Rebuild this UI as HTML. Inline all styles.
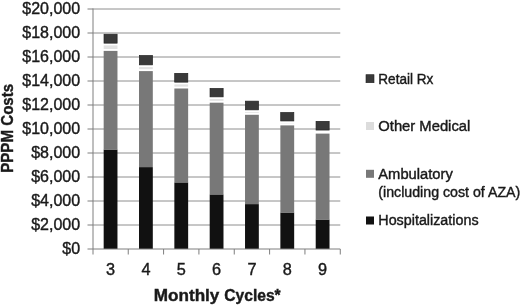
<!DOCTYPE html><html><head><meta charset="utf-8"><style>html,body{margin:0;padding:0;background:#fff;}svg{display:block}text{font-family:"Liberation Sans",sans-serif;stroke:#1a1a1a;stroke-width:0.4px;}svg{will-change:transform;filter:blur(0.35px)}</style></head><body>
<svg width="520" height="305" viewBox="0 0 520 305">
<rect width="520" height="305" fill="#fff"/>
<line x1="92.9" y1="225.0" x2="340.28" y2="225.0" stroke="#8e8e8e" stroke-width="1"/>
<line x1="92.9" y1="201.0" x2="340.28" y2="201.0" stroke="#8e8e8e" stroke-width="1"/>
<line x1="92.9" y1="177.0" x2="340.28" y2="177.0" stroke="#8e8e8e" stroke-width="1"/>
<line x1="92.9" y1="153.0" x2="340.28" y2="153.0" stroke="#8e8e8e" stroke-width="1"/>
<line x1="92.9" y1="129.0" x2="340.28" y2="129.0" stroke="#8e8e8e" stroke-width="1"/>
<line x1="92.9" y1="105.0" x2="340.28" y2="105.0" stroke="#8e8e8e" stroke-width="1"/>
<line x1="92.9" y1="81.0" x2="340.28" y2="81.0" stroke="#8e8e8e" stroke-width="1"/>
<line x1="92.9" y1="57.0" x2="340.28" y2="57.0" stroke="#8e8e8e" stroke-width="1"/>
<line x1="92.9" y1="33.0" x2="340.28" y2="33.0" stroke="#8e8e8e" stroke-width="1"/>
<line x1="92.9" y1="9.0" x2="340.28" y2="9.0" stroke="#8e8e8e" stroke-width="1"/>
<rect x="103.67" y="149.5" width="13.8" height="99.50" fill="#111111"/>
<rect x="103.67" y="50.9" width="13.8" height="98.60" fill="#787878"/>
<rect x="103.67" y="45.40" width="13.8" height="3.60" fill="#e2e2e2"/>
<rect x="104.02" y="34.25" width="13.100000000000001" height="8.90" fill="#3a3a3a" stroke="#222222" stroke-width="0.7"/>
<rect x="139.01" y="167.1" width="13.8" height="81.90" fill="#111111"/>
<rect x="139.01" y="71.1" width="13.8" height="96.00" fill="#787878"/>
<rect x="139.01" y="67.10" width="13.8" height="2.10" fill="#e2e2e2"/>
<rect x="139.36" y="55.550000000000004" width="13.100000000000001" height="9.30" fill="#3a3a3a" stroke="#222222" stroke-width="0.7"/>
<rect x="174.35" y="182.4" width="13.8" height="66.60" fill="#111111"/>
<rect x="174.35" y="88.5" width="13.8" height="93.90" fill="#787878"/>
<rect x="174.35" y="84.40" width="13.8" height="2.20" fill="#e2e2e2"/>
<rect x="174.70" y="73.35" width="13.100000000000001" height="8.80" fill="#3a3a3a" stroke="#222222" stroke-width="0.7"/>
<rect x="209.69" y="194.4" width="13.8" height="54.60" fill="#111111"/>
<rect x="209.69" y="102.7" width="13.8" height="91.70" fill="#787878"/>
<rect x="209.69" y="99.10" width="13.8" height="1.70" fill="#e2e2e2"/>
<rect x="210.04" y="88.44999999999999" width="13.100000000000001" height="8.40" fill="#3a3a3a" stroke="#222222" stroke-width="0.7"/>
<rect x="245.03" y="204.1" width="13.8" height="44.90" fill="#111111"/>
<rect x="245.03" y="114.8" width="13.8" height="89.30" fill="#787878"/>
<rect x="245.03" y="112.10" width="13.8" height="0.80" fill="#e2e2e2"/>
<rect x="245.38" y="101.14999999999999" width="13.100000000000001" height="8.70" fill="#3a3a3a" stroke="#222222" stroke-width="0.7"/>
<rect x="280.37" y="212.5" width="13.8" height="36.50" fill="#111111"/>
<rect x="280.37" y="125.4" width="13.8" height="87.10" fill="#787878"/>
<rect x="280.37" y="123.20" width="13.8" height="0.30" fill="#e2e2e2"/>
<rect x="280.72" y="112.55" width="13.100000000000001" height="8.40" fill="#3a3a3a" stroke="#222222" stroke-width="0.7"/>
<rect x="315.71" y="219.5" width="13.8" height="29.50" fill="#111111"/>
<rect x="315.71" y="133.6" width="13.8" height="85.90" fill="#787878"/>
<rect x="316.06" y="121.35" width="13.100000000000001" height="8.70" fill="#3a3a3a" stroke="#222222" stroke-width="0.7"/>
<line x1="93" y1="8.5" x2="93" y2="254.5" stroke="#7e7e7e" stroke-width="1"/>
<line x1="87.5" y1="249.0" x2="340.28" y2="249.0" stroke="#7e7e7e" stroke-width="1"/>
<line x1="87.5" y1="225.0" x2="93" y2="225.0" stroke="#7e7e7e" stroke-width="1"/>
<line x1="87.5" y1="201.0" x2="93" y2="201.0" stroke="#7e7e7e" stroke-width="1"/>
<line x1="87.5" y1="177.0" x2="93" y2="177.0" stroke="#7e7e7e" stroke-width="1"/>
<line x1="87.5" y1="153.0" x2="93" y2="153.0" stroke="#7e7e7e" stroke-width="1"/>
<line x1="87.5" y1="129.0" x2="93" y2="129.0" stroke="#7e7e7e" stroke-width="1"/>
<line x1="87.5" y1="105.0" x2="93" y2="105.0" stroke="#7e7e7e" stroke-width="1"/>
<line x1="87.5" y1="81.0" x2="93" y2="81.0" stroke="#7e7e7e" stroke-width="1"/>
<line x1="87.5" y1="57.0" x2="93" y2="57.0" stroke="#7e7e7e" stroke-width="1"/>
<line x1="87.5" y1="33.0" x2="93" y2="33.0" stroke="#7e7e7e" stroke-width="1"/>
<line x1="87.5" y1="9.0" x2="93" y2="9.0" stroke="#7e7e7e" stroke-width="1"/>
<line x1="128.24" y1="249.0" x2="128.24" y2="254.5" stroke="#7e7e7e" stroke-width="1"/>
<line x1="163.58" y1="249.0" x2="163.58" y2="254.5" stroke="#7e7e7e" stroke-width="1"/>
<line x1="198.92" y1="249.0" x2="198.92" y2="254.5" stroke="#7e7e7e" stroke-width="1"/>
<line x1="234.26" y1="249.0" x2="234.26" y2="254.5" stroke="#7e7e7e" stroke-width="1"/>
<line x1="269.60" y1="249.0" x2="269.60" y2="254.5" stroke="#7e7e7e" stroke-width="1"/>
<line x1="304.94" y1="249.0" x2="304.94" y2="254.5" stroke="#7e7e7e" stroke-width="1"/>
<line x1="340.28" y1="249.0" x2="340.28" y2="254.5" stroke="#7e7e7e" stroke-width="1"/>
<text x="80.1" y="253.8" font-size="16" text-anchor="end" fill="#1a1a1a">$0</text>
<text x="80.1" y="229.8" font-size="16" text-anchor="end" fill="#1a1a1a">$2,000</text>
<text x="80.1" y="205.8" font-size="16" text-anchor="end" fill="#1a1a1a">$4,000</text>
<text x="80.1" y="181.8" font-size="16" text-anchor="end" fill="#1a1a1a">$6,000</text>
<text x="80.1" y="157.8" font-size="16" text-anchor="end" fill="#1a1a1a">$8,000</text>
<text x="80.1" y="133.8" font-size="16" text-anchor="end" fill="#1a1a1a">$10,000</text>
<text x="80.1" y="109.8" font-size="16" text-anchor="end" fill="#1a1a1a">$12,000</text>
<text x="80.1" y="85.8" font-size="16" text-anchor="end" fill="#1a1a1a">$14,000</text>
<text x="80.1" y="61.8" font-size="16" text-anchor="end" fill="#1a1a1a">$16,000</text>
<text x="80.1" y="37.8" font-size="16" text-anchor="end" fill="#1a1a1a">$18,000</text>
<text x="80.1" y="13.8" font-size="16" text-anchor="end" fill="#1a1a1a">$20,000</text>
<text x="110.57" y="275.0" font-size="16.3" text-anchor="middle" fill="#1a1a1a">3</text>
<text x="145.91" y="275.0" font-size="16.3" text-anchor="middle" fill="#1a1a1a">4</text>
<text x="181.25" y="275.0" font-size="16.3" text-anchor="middle" fill="#1a1a1a">5</text>
<text x="216.59" y="275.0" font-size="16.3" text-anchor="middle" fill="#1a1a1a">6</text>
<text x="251.93" y="275.0" font-size="16.3" text-anchor="middle" fill="#1a1a1a">7</text>
<text x="287.27" y="275.0" font-size="16.3" text-anchor="middle" fill="#1a1a1a">8</text>
<text x="322.61" y="275.0" font-size="16.3" text-anchor="middle" fill="#1a1a1a">9</text>
<text x="153.8" y="300.8" font-size="16" font-weight="bold" textLength="65.6" lengthAdjust="spacingAndGlyphs" fill="#1a1a1a">Monthly</text>
<text x="224.3" y="300.8" font-size="16" font-weight="bold" textLength="56.4" lengthAdjust="spacingAndGlyphs" fill="#1a1a1a">Cycles*</text>
<text transform="translate(12.9,128.3) rotate(-90)" x="0" y="0" font-size="16.6" font-weight="bold" text-anchor="middle" textLength="89.0" lengthAdjust="spacingAndGlyphs" fill="#1a1a1a">PPPM Costs</text>
<rect x="366" y="74.7" width="8" height="8" fill="#3a3a3a" stroke="#222222" stroke-width="0.6"/>
<text x="378.3" y="83.5" font-size="14.0" textLength="55" lengthAdjust="spacingAndGlyphs" fill="#1a1a1a">Retail Rx</text>
<rect x="366" y="122" width="8" height="8" fill="#dcdcdc"/>
<text x="378.3" y="130.8" font-size="14.0" textLength="92" lengthAdjust="spacingAndGlyphs" fill="#1a1a1a">Other Medical</text>
<rect x="366" y="169.8" width="8" height="8" fill="#787878"/>
<text x="378.3" y="178.6" font-size="14.0" textLength="74.5" lengthAdjust="spacingAndGlyphs" fill="#1a1a1a">Ambulatory</text>
<text x="378.3" y="197.0" font-size="14.0" textLength="142" lengthAdjust="spacingAndGlyphs" fill="#1a1a1a">(including cost of AZA)</text>
<rect x="366" y="216.5" width="8" height="8" fill="#111111"/>
<text x="378.3" y="224.8" font-size="14.0" textLength="100.3" lengthAdjust="spacingAndGlyphs" fill="#1a1a1a">Hospitalizations</text>
</svg></body></html>
